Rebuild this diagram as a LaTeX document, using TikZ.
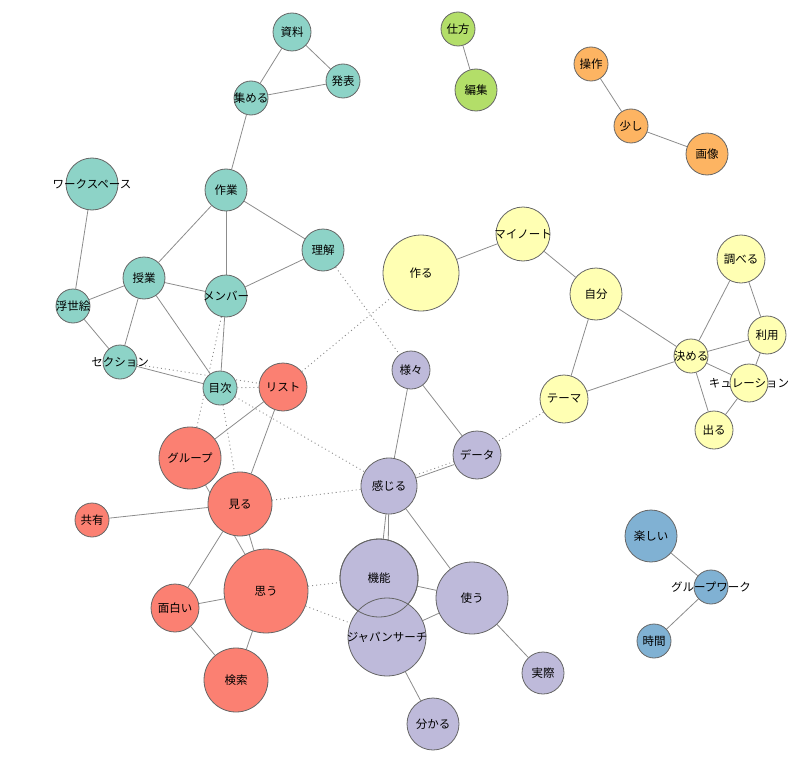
\documentclass[tikz,border=0pt]{standalone}
\usepackage{fontspec}
\setmainfont{Noto Sans CJK JP}
\usetikzlibrary{backgrounds}
\definecolor{cteal}{HTML}{8DD3C7}
\definecolor{cyel}{HTML}{FFFFB3}
\definecolor{cpur}{HTML}{BEBADA}
\definecolor{cred}{HTML}{FB8072}
\definecolor{cblue}{HTML}{80B1D3}
\definecolor{corg}{HTML}{FDB462}
\definecolor{cgrn}{HTML}{B3DE69}
\definecolor{cborder}{HTML}{666666}
\definecolor{cedge}{HTML}{8C8C8C}
\newcommand{\vlab}[1]{\makebox[0pt]{#1}}

\begin{document}
\begin{tikzpicture}[x=1pt,y=-1pt]
\tikzstyle{every node}+=[inner sep=0pt, font=\fontsize{11.5}{12}\selectfont]
\tikzstyle{vertex}=[circle, draw=cborder, line width=0.8pt]
\tikzstyle{edge}=[cedge, line width=0.8pt]
\tikzstyle{weak}=[cedge, line width=0.9pt, dash pattern=on 1pt off 3pt]
\useasboundingbox (0,0) rectangle (808,757);
\node[vertex, fill=cteal, minimum size=38] (shiryou) at (292,32) {\vlab{資料}};
\node[vertex, fill=cteal, minimum size=34] (happyou) at (343,81) {\vlab{発表}};
\node[vertex, fill=cteal, minimum size=34] (atsumeru) at (251,98) {\vlab{集める}};
\node[vertex, fill=cteal, minimum size=42] (sagyou) at (226,190) {\vlab{作業}};
\node[vertex, fill=cteal, minimum size=52] (wspace) at (92,184) {\vlab{ワークスペース}};
\node[vertex, fill=cteal, minimum size=42] (rikai) at (323,250) {\vlab{理解}};
\node[vertex, fill=cteal, minimum size=42] (jugyou) at (144,278) {\vlab{授業}};
\node[vertex, fill=cteal, minimum size=42] (member) at (226,296) {\vlab{メンバー}};
\node[vertex, fill=cteal, minimum size=34] (ukiyoe) at (73,306) {\vlab{浮世絵}};
\node[vertex, fill=cteal, minimum size=34] (section) at (120,362) {\vlab{セクション}};
\node[vertex, fill=cteal, minimum size=34] (mokuji) at (220,388) {\vlab{目次}};
\node[vertex, fill=cred, minimum size=48] (list) at (283,387) {\vlab{リスト}};
\node[vertex, fill=cred, minimum size=62] (group) at (190,458) {\vlab{グループ}};
\node[vertex, fill=cred, minimum size=64] (miru) at (240,504) {\vlab{見る}};
\node[vertex, fill=cred, minimum size=34] (kyouyuu) at (92,520) {\vlab{共有}};
\node[vertex, fill=cred, minimum size=84] (omou) at (266,591) {\vlab{思う}};
\node[vertex, fill=cred, minimum size=48] (omoshiroi) at (175,608) {\vlab{面白い}};
\node[vertex, fill=cred, minimum size=64] (kensaku) at (236,680) {\vlab{検索}};
\node[vertex, fill=cpur, minimum size=38] (samazama) at (411,370) {\vlab{様々}};
\node[vertex, fill=cpur, minimum size=48] (data) at (477,455) {\vlab{データ}};
\node[vertex, fill=cpur, minimum size=56] (kanjiru) at (389,486) {\vlab{感じる}};
\node[vertex, fill=cpur, minimum size=78] (kinou) at (379,578) {\vlab{機能}};
\node[vertex, fill=cpur, minimum size=72] (tsukau) at (472,598) {\vlab{使う}};
\node[vertex, fill=cpur, minimum size=78] (jsearch) at (387,637) {\vlab{ジャパンサーチ}};
\node[vertex, fill=cpur, minimum size=52] (wakaru) at (433,724) {\vlab{分かる}};
\node[vertex, fill=cpur, minimum size=42] (jissai) at (543,673) {\vlab{実際}};
\node[vertex, fill=cyel, minimum size=76] (tsukuru) at (421,273) {\vlab{作る}};
\node[vertex, fill=cyel, minimum size=54] (mynote) at (523,234) {\vlab{マイノート}};
\node[vertex, fill=cyel, minimum size=52] (jibun) at (596,294) {\vlab{自分}};
\node[vertex, fill=cyel, minimum size=48] (theme) at (564,399) {\vlab{テーマ}};
\node[vertex, fill=cyel, minimum size=34] (kimeru) at (691,356) {\vlab{決める}};
\node[vertex, fill=cyel, minimum size=48] (shiraberu) at (741,259) {\vlab{調べる}};
\node[vertex, fill=cyel, minimum size=38] (riyou) at (767,335) {\vlab{利用}};
\node[vertex, fill=cyel, minimum size=38] (curation) at (749,383) {\vlab{キュレーション}};
\node[vertex, fill=cyel, minimum size=38] (deru) at (714,430) {\vlab{出る}};
\node[vertex, fill=cgrn, minimum size=34] (shikata) at (458,29) {\vlab{仕方}};
\node[vertex, fill=cgrn, minimum size=42] (henshuu) at (476,90) {\vlab{編集}};
\node[vertex, fill=corg, minimum size=34] (sousa) at (591,64) {\vlab{操作}};
\node[vertex, fill=corg, minimum size=34] (sukoshi) at (631,126) {\vlab{少し}};
\node[vertex, fill=corg, minimum size=42] (gazou) at (707,154) {\vlab{画像}};
\node[vertex, fill=cblue, minimum size=52] (tanoshii) at (651,536) {\vlab{楽しい}};
\node[vertex, fill=cblue, minimum size=34] (gwork) at (711,587) {\vlab{グループワーク}};
\node[vertex, fill=cblue, minimum size=34] (jikan) at (654,641) {\vlab{時間}};
\draw[cborder, line width=0.8pt] (kinou.center) circle (39);
\begin{scope}[on background layer]
\draw[edge] (shiryou) -- (happyou);
\draw[edge] (shiryou) -- (atsumeru);
\draw[edge] (atsumeru) -- (happyou);
\draw[edge] (atsumeru) -- (sagyou);
\draw[edge] (sagyou) -- (jugyou);
\draw[edge] (sagyou) -- (member);
\draw[edge] (sagyou) -- (rikai);
\draw[edge] (rikai) -- (member);
\draw[edge] (jugyou) -- (member);
\draw[edge] (jugyou) -- (ukiyoe);
\draw[edge] (jugyou) -- (section);
\draw[edge] (jugyou) -- (mokuji);
\draw[edge] (wspace) -- (ukiyoe);
\draw[edge] (ukiyoe) -- (section);
\draw[edge] (section) -- (mokuji);
\draw[edge] (member) -- (mokuji);
\draw[edge] (list) -- (group);
\draw[edge] (list) -- (miru);
\draw[edge] (group) -- (omou);
\draw[edge] (miru) -- (omou);
\draw[edge] (miru) -- (kyouyuu);
\draw[edge] (miru) -- (omoshiroi);
\draw[edge] (omoshiroi) -- (omou);
\draw[edge] (omoshiroi) -- (kensaku);
\draw[edge] (omou) -- (kensaku);
\draw[edge] (samazama) -- (kanjiru);
\draw[edge] (samazama) -- (data);
\draw[edge, transform canvas={yshift=-1.5pt}] (data) -- (kanjiru);
\draw[edge] (kanjiru) -- (kinou);
\draw[edge] (kanjiru) -- (jsearch);
\draw[edge] (kanjiru) -- (tsukau);
\draw[edge] (kinou) -- (tsukau);
\draw[edge] (jsearch) -- (tsukau);
\draw[edge] (tsukau) -- (jissai);
\draw[edge] (jsearch) -- (wakaru);
\draw[edge] (tsukuru) -- (mynote);
\draw[edge] (mynote) -- (jibun);
\draw[edge] (jibun) -- (theme);
\draw[edge] (jibun) -- (kimeru);
\draw[edge] (theme) -- (kimeru);
\draw[edge] (kimeru) -- (shiraberu);
\draw[edge] (shiraberu) -- (riyou);
\draw[edge] (kimeru) -- (riyou);
\draw[edge] (kimeru) -- (curation);
\draw[edge] (riyou) -- (curation);
\draw[edge] (kimeru) -- (deru);
\draw[edge] (curation) -- (deru);
\draw[edge] (shikata) -- (henshuu);
\draw[edge] (sousa) -- (sukoshi);
\draw[edge] (sukoshi) -- (gazou);
\draw[edge] (tanoshii) -- (gwork);
\draw[edge] (jikan) -- (gwork);
\draw[weak] (section) -- (list);
\draw[weak] (mokuji) -- (list);
\draw[weak] (member) -- (group);
\draw[weak] (mokuji) -- (miru);
\draw[weak] (mokuji) -- (kanjiru);
\draw[weak] (rikai) -- (samazama);
\draw[weak] (list) -- (tsukuru);
\draw[weak] (theme) -- (data);
\draw[weak, transform canvas={yshift=1.5pt}] (data) -- (kanjiru);
\draw[weak] (miru) -- (kanjiru);
\draw[weak] (omou) -- (kinou);
\draw[weak] (omou) -- (jsearch);
\end{scope}
\end{tikzpicture}
\end{document}
